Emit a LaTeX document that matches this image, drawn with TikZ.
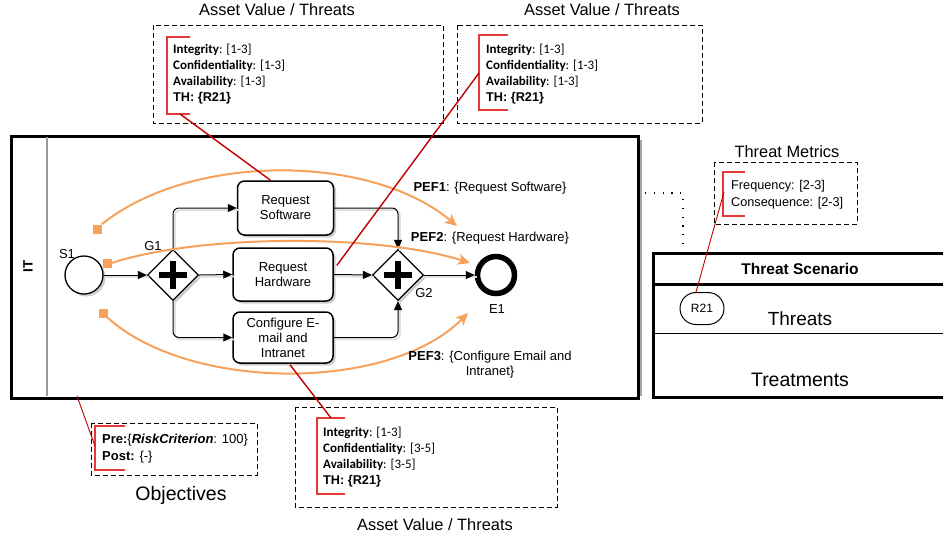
\documentclass[tikz,border=0pt]{standalone}
\usepackage{fontspec}
\setmainfont{Liberation Sans}
\newfontfamily\calfont{Carlito}
\usetikzlibrary{shapes.geometric,shapes.misc,arrows.meta,shadows,calc}
\definecolor{flowor}{RGB}{246,162,92}
\definecolor{linkred}{RGB}{192,0,0}
\definecolor{brkred}{RGB}{228,56,56}
\newcommand{\fsz}[2]{\fontsize{#1}{#2}\selectfont}

\begin{document}
\begin{tikzpicture}[x=1pt,y=-1pt,
  shade/.style={drop shadow={shadow xshift=2.5pt,shadow yshift=-2.5pt,fill=black!35,opacity=0.55}},
  task/.style={draw,line width=1.5pt,rounded corners=7pt,align=center,inner sep=0pt,
    font=\fsz{13}{15},fill=white,shade},
  gate/.style={diamond,draw,line width=1.2pt,minimum size=51pt,inner sep=0pt,fill=white,shade},
  seq/.style={line width=1pt,-{Triangle[length=9pt,width=8pt]},
    preaction={draw=black!12,line width=1.6pt,arrows=-,transform canvas={shift={(2pt,-2pt)}}}},
  pefarrow/.style={line width=2pt,draw=flowor,-{Stealth[length=12pt,width=11pt,inset=3pt]}},
  pefsq/.style={fill=flowor,minimum size=9pt,inner sep=0pt},
  link/.style={draw=linkred,line width=1.4pt},
  thinlink/.style={draw=linkred,line width=0.9pt},
  bracket/.style={draw=brkred,line width=1.1pt},
  dbox/.style={draw,line width=0.8pt,dash pattern=on 5pt off 3pt},
  lbl/.style={font=\fsz{13}{15}},
  title/.style={font=\fsz{16.4}{18}},
  avtext/.style={anchor=west,align=left,inner sep=0pt,font=\calfont\fsz{13}{16}},
]
\useasboundingbox (0,0) rectangle (943,539);

% ---------- pool ----------
\draw[black!35,line width=1.5pt] (641,140) -- (641,396);
\node[draw,line width=3pt,minimum width=627pt,minimum height=262pt,inner sep=0pt,anchor=north west,fill=white] (pool) at (10,135) {};
\draw[black!40,line width=1.5pt] (47,136.5) -- (47,395.5);
\node[rotate=90,font=\bfseries\fsz{13.5}{15}] (itlbl) at (28,266) {IT};

% ---------- process ----------
\node[circle,draw,line width=1.3pt,minimum size=38pt,inner sep=0pt,fill=white,shade] (S1) at (84,275) {};
\node[lbl] (s1l) at (67,254) {S1};
\node[gate] (G1) at (173,275) {};
\node[lbl] (g1l) at (153,246) {G1};
\node[task,minimum width=96pt,minimum height=54pt] (RS) at (285.5,208) {Request\\Software};
\node[task,minimum width=100pt,minimum height=53pt] (RH) at (283,274.5) {Request\\Hardware};
\node[task,minimum width=100pt,minimum height=51pt] (CE) at (283,337.5) {Configure E-\\mail and\\Intranet};
\node[gate] (G2) at (398,275) {};
\node[lbl] (g2l) at (424,293) {G2};
\node[circle,draw,line width=5.5pt,minimum size=37pt,inner sep=0pt,fill=white,shade] (E1) at (496,275) {};
\node[lbl] (e1l) at (497,309) {E1};

\foreach \g in {G1,G2}{
  \draw[line width=6pt] ($(\g)+(-14,0)$) -- ($(\g)+(14,0)$) ($(\g)+(0,-14)$) -- ($(\g)+(0,14)$);
}

\draw[seq] (S1.east) -- (G1.west);
\draw[seq,rounded corners=6pt] (G1.north) |- (RS.west);
\draw[seq] (G1.east) -- (RH.west);
\draw[seq,rounded corners=6pt] (G1.south) |- (CE.west);
\draw[seq,rounded corners=6pt] (RS.east) -| (G2.north);
\draw[seq] (RH.east) -- (G2.west);
\draw[seq,rounded corners=6pt] (CE.east) -| (G2.south);
\draw[seq] (G2.east) -- (E1.west);

% ---------- path expressions ----------
\node[pefsq] (q1) at (97,229) {};
\node[pefsq] (q2) at (107,263) {};
\node[pefsq] (q3) at (103,313) {};
\coordinate (p1) at (457,226);
\coordinate (p2) at (470,263);
\coordinate (p3) at (468,313);
\draw[pefarrow] (q1.north east) .. controls (190,153) and (370,153) .. (p1);
\draw[pefarrow] (q2.east) .. controls (200,234) and (380,234) .. (p2);
\draw[pefarrow] (q3.south east) .. controls (190,392) and (390,392) .. (p3);
\node[lbl] (pef1) at (490,188) {\textbf{PEF1}: \{Request Software\}};
\node[lbl] (pef2) at (490,238) {\textbf{PEF2}: \{Request Hardware\}};
\node[lbl,align=center] (pef3) at (490,364.5) {\textbf{PEF3}: \{Configure Email and\\Intranet\}};

% ---------- asset value box (top left) ----------
\node[title] (av1t) at (277,10) {Asset Value / Threats};
\draw[dbox] (153,25) rectangle (443,123);
\draw[bracket] (190,37) -- (167,37) -- (167,114) -- (190,114);
\node[avtext] (av1) at (173,74) {\textbf{Integrity}: [1-3]\\\textbf{Confidentiality}: [1-3]\\\textbf{Availability}: [1-3]\\{\rmfamily\bfseries\fsz{12.7}{16}TH: \{R21\}}};
\coordinate (av1b) at (180,114);
\draw[link] (av1b) -- ($(RS.north)+(-15,0)$);

% ---------- asset value box (top right) ----------
\node[title] (av2t) at (602,10) {Asset Value / Threats};
\draw[dbox] (457,25) rectangle (702,123);
\draw[bracket] (508,35) -- (479,35) -- (479,110) -- (508,110);
\node[avtext] (av2) at (486,74) {\textbf{Integrity}: [1-3]\\\textbf{Confidentiality}: [1-3]\\\textbf{Availability}: [1-3]\\{\rmfamily\bfseries\fsz{12.7}{16}TH: \{R21\}}};
\coordinate (av2b) at (479,73);
\draw[link] (av2b) -- ($(RH.east)+(3,-9)$);

% ---------- asset value box (bottom) ----------
\draw[dbox] (295,407) rectangle (557,507);
\draw[bracket] (345,418) -- (317,418) -- (317,494) -- (345,494);
\node[avtext] (av3) at (323,457) {\textbf{Integrity}: [1-3]\\\textbf{Confidentiality}: [3-5]\\\textbf{Availability}: [3-5]\\{\rmfamily\bfseries\fsz{12.7}{16}TH: \{R21\}}};
\node[title] (av3t) at (435,525) {Asset Value / Threats};
\coordinate (av3b) at (331,418);
\draw[link] ($(CE.south)+(7,1)$) -- (av3b);

% ---------- objectives ----------
\draw[dbox] (91,423) rectangle (257,475);
\draw[bracket] (125,426) -- (95,426) -- (95,470) -- (125,470);
\node[anchor=west,align=left,inner sep=0pt,font=\fsz{13}{17}] (obj) at (102,449) {\textbf{Pre:}\{\textbf{\itshape RiskCriterion}: 100\}\\\textbf{Post:} \{-\}};
\node[font=\fsz{19.5}{21}] (objt) at (181,495) {Objectives};
\coordinate (objtop) at (77,396);
\coordinate (objbr) at (95,446);
\draw[thinlink] (objtop) -- (objbr);

% ---------- threat metrics ----------
\draw[line width=1.3pt,dash pattern=on 1.2pt off 7.6pt] (645,193) -- (683,193) -- (683,244);
\node[title] (tmt) at (787,152) {Threat Metrics};
\draw[dbox] (714,162) rectangle (857,224);
\draw[bracket] (745,172) -- (723,172) -- (723,216) -- (745,216);
\node[anchor=west,align=left,inner sep=0pt,font=\fsz{12.7}{17}] (tm) at (731,194.5) {Frequency: [2-3]\\Consequence: [2-3]};
\coordinate (tmb) at (724,192);

% ---------- threat scenario ----------
\draw[line width=3pt] (945,253) -- (653,253) -- (653,397) -- (945,397);
\draw[line width=3pt] (653,284) -- (945,284);
\draw[line width=1pt] (653,333) -- (945,333);
\node[font=\bfseries\fsz{15.5}{17}] (tsh) at (800,269) {Threat Scenario};
\node[font=\fsz{19}{21}] (thr) at (800,319) {Threats};
\node[font=\fsz{19.5}{21}] (trt) at (800,380) {Treatments};
\node[draw,rounded rectangle,line width=1pt,minimum width=44pt,minimum height=32pt,inner sep=0pt,font=\fsz{12}{14},fill=white] (R21) at (702,308.5) {R21};
\draw[thinlink] (tmb) -- (R21.north west);

\end{tikzpicture}
\end{document}
